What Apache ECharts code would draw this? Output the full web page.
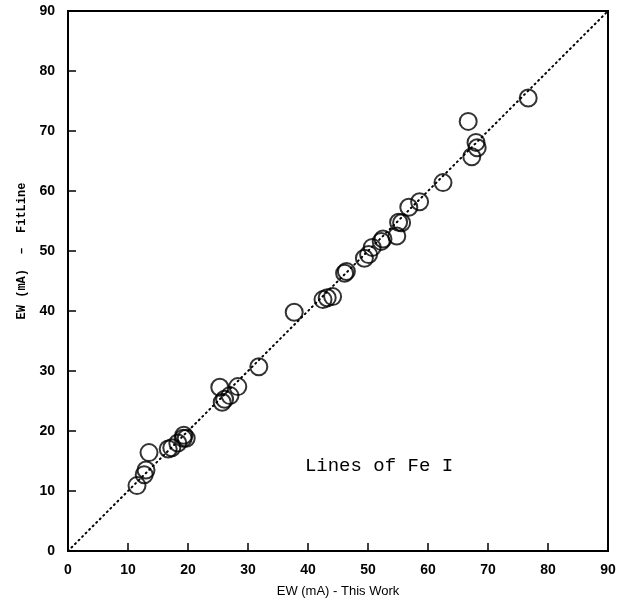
<!DOCTYPE html>
<html>
<head>
<meta charset="utf-8">
<script src="https://cdn.jsdelivr.net/npm/echarts@6/dist/echarts.min.js"></script>
<style>html,body{margin:0;padding:0;background:#fff;}#c{width:638px;height:602px;}</style>
</head>
<body>
<div id="c"></div>
<script>
const ewThisWork = [11.5,12.7,13.0,13.5,16.7,17.3,18.3,19.2,19.3,19.7,25.3,25.7,26.1,27.0,28.3,31.8,37.7,42.5,43.2,44.1,46.1,46.4,49.4,50.1,50.7,52.2,52.5,54.8,55.1,55.6,56.8,58.6,62.5,66.7,67.3,68.0,68.2,76.7];
const ewFitLine  = [10.9,12.7,13.5,16.4,17.0,17.2,18.0,18.8,19.3,18.8,27.3,24.8,25.3,25.9,27.4,30.7,39.8,41.9,42.2,42.4,46.3,46.6,48.8,49.4,50.6,51.6,52.0,52.5,54.8,54.7,57.3,58.2,61.4,71.6,65.7,68.1,67.2,75.5];
const fitLineX = [0, 90];
const fitLineY = [0, 90];

const chart = echarts.init(document.getElementById('c'), null, {renderer:'canvas'});
const pts = ewThisWork.map((v,i)=>[v, ewFitLine[i]]);
const line = fitLineX.map((v,i)=>[v, fitLineY[i]]);
const axisCommon = {
  type:'value', min:0, max:90, interval:10,
  axisLine:{show:true, onZero:false, lineStyle:{color:'#000', width:2}},
  axisTick:{show:true, inside:true, length:8, lineStyle:{color:'#000', width:1.5}},
  splitLine:{show:false},
  axisLabel:{color:'#000', fontFamily:'Liberation Sans, Arial, sans-serif', fontWeight:'bold', fontSize:14}
};
chart.setOption({
  animation:false,
  backgroundColor:'#fff',
  grid:{left:68, right:30, top:11, bottom:51, show:true, borderColor:'#000', borderWidth:2,
        containLabel:false, outerBoundsMode:'none'},
  xAxis:Object.assign({}, axisCommon, {
    name:'EW (mA) - This Work', nameLocation:'middle', nameGap:34,
    nameTextStyle:{color:'#000', fontFamily:'Liberation Sans, Arial, sans-serif', fontSize:13},
    axisLabel:Object.assign({}, axisCommon.axisLabel, {margin:12})
  }),
  yAxis:Object.assign({}, axisCommon, {
    axisLabel:Object.assign({}, axisCommon.axisLabel, {margin:13})
  }),
  series:[
    {type:'line', data:line, symbol:'none', silent:true,
     lineStyle:{color:'#000', width:2, type:[1,4], cap:'round'}},
    {type:'scatter', data:pts, symbol:'circle', symbolSize:17,
     itemStyle:{color:'rgba(0,0,0,0)', borderColor:'#000', borderWidth:2}}
  ],
  graphic:[
    {type:'text', x:22, y:251, rotation:Math.PI/2,
     style:{text:'EW (mA)  –  FitLine', fill:'#000', align:'center', verticalAlign:'middle',
            font:'bold 12px "Liberation Mono", "DejaVu Sans Mono", monospace'}},
    {type:'text', x:379, y:466,
     style:{text:'Lines of Fe I', fill:'#000', align:'center', verticalAlign:'middle',
            font:'19px "Liberation Mono", "DejaVu Sans Mono", monospace'}}
  ]
});
</script>
</body>
</html>
